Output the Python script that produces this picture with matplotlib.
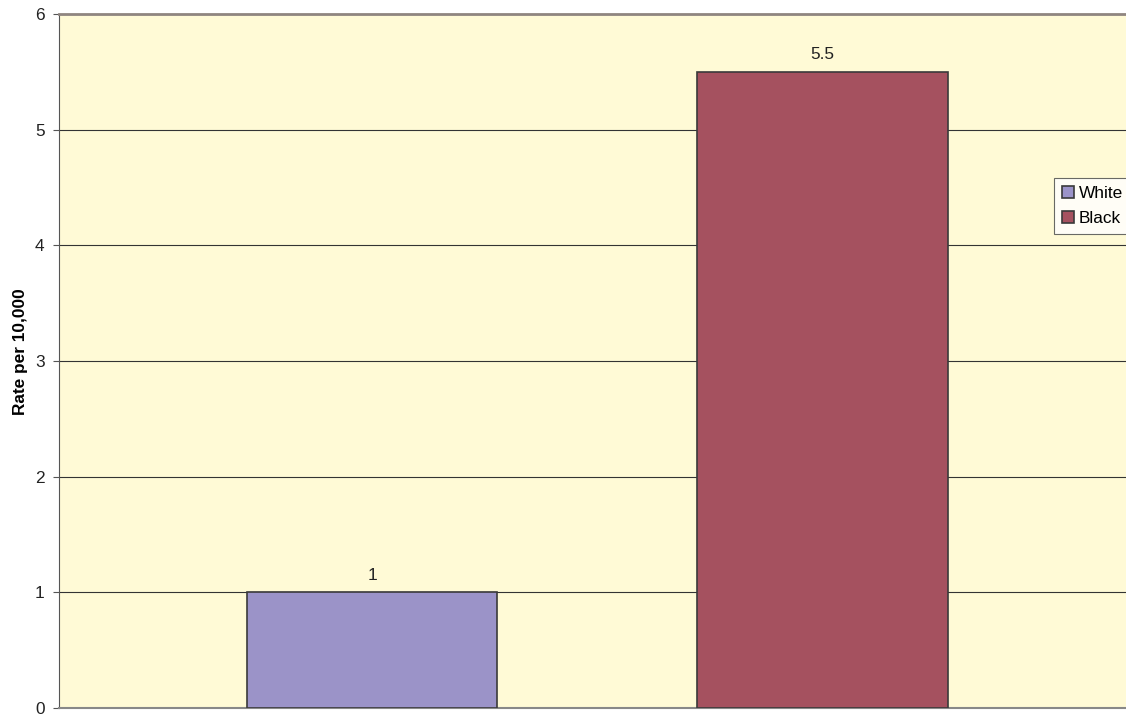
import matplotlib.pyplot as plt

plt.rcParams['font.family'] = ['Liberation Sans', 'DejaVu Sans']

series = ['White', 'Black']
rates = [1, 5.5]
colors = ['#9b93c8', '#a5515f']
yticks = [0, 1, 2, 3, 4, 5, 6]

fig = plt.figure(figsize=(11.26, 7.15), dpi=100)
ax = fig.add_axes([0.0524, 0.0098, 0.9565, 0.9706])
ax.set_facecolor('#fffad6')

fs = 12.4
for i, (name, val, c) in enumerate(zip(series, rates, colors)):
    b = ax.bar(i, val, width=0.556, color=c, edgecolor='#3a3a3a', linewidth=1.2,
               label=name, zorder=3)
    ax.bar_label(b, labels=['%g' % val], padding=7, fontsize=fs, color='#222222')

ax.set_xlim(-0.6956, 1.6967)
ax.set_ylim(0, 6)
ax.set_yticks(yticks)
ax.set_xticks([])
ax.yaxis.grid(True, color='#333333', linewidth=0.8, zorder=0)
ax.tick_params(axis='y', labelsize=fs, length=4, pad=6.5, color='#555555',
               labelcolor='#222222')

ax.spines['left'].set_color('#555555')
ax.spines['bottom'].set_color('#888888')
ax.spines['bottom'].set_linewidth(1.5)
ax.spines['top'].set_color('#8f8580')
ax.spines['top'].set_linewidth(2)
ax.spines['right'].set_visible(False)

ax.set_ylabel('Rate per 10,000', fontsize=fs, fontweight='bold')
ax.yaxis.set_label_coords(-0.029, 0.513)

leg = fig.legend(loc='upper left', bbox_to_anchor=(0.936, 0.751), fontsize=fs,
                 frameon=True, fancybox=False, edgecolor='#444444',
                 handlelength=0.7, handleheight=0.7, handletextpad=0.3,
                 borderpad=0.45, labelspacing=0.6, borderaxespad=0)
leg.get_frame().set_linewidth(0.8)

plt.savefig('out.png', dpi=100)
